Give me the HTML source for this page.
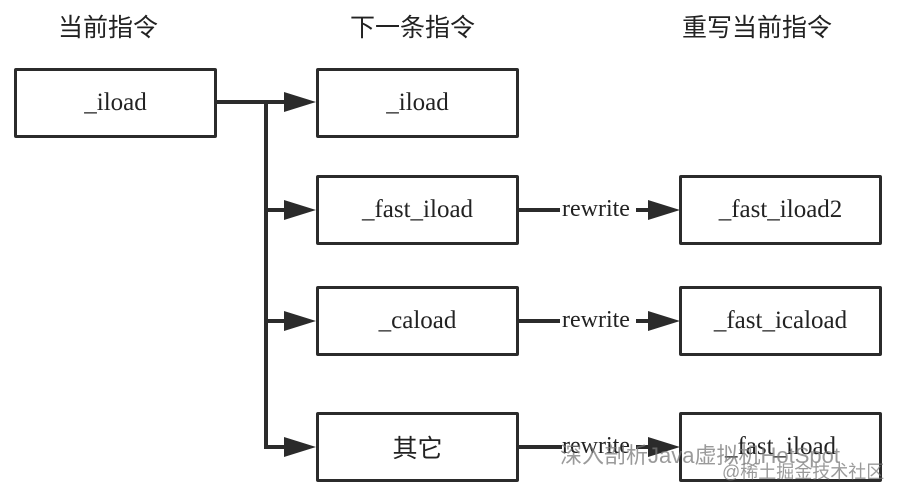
<!DOCTYPE html>
<html><head><meta charset="utf-8"><style>
body{margin:0;background:#fff;width:899px;height:494px;overflow:hidden;position:relative;font-family:"Liberation Serif","Noto Serif CJK SC",serif;}
.t{position:absolute;font-family:"Liberation Sans","Noto Sans CJK SC",sans-serif;font-size:25px;color:#222;}
.b{position:absolute;border:3.5px solid #2b2b2b;box-sizing:border-box;border-radius:2px;display:flex;align-items:center;justify-content:center;font-size:25px;color:#222;}
.r{position:absolute;font-size:24px;color:#222;background:#fff;padding:0 2px;}
.w{position:absolute;font-family:"Liberation Sans","Noto Sans CJK SC",sans-serif;color:rgba(120,120,120,0.75);}
</style></head><body>
<div class="t" style="left:58px;top:8px">当前指令</div>
<div class="t" style="left:350px;top:8px">下一条指令</div>
<div class="t" style="left:682px;top:8px">重写当前指令</div>
<svg width="899" height="494" style="position:absolute;left:0;top:0">
<g stroke="#2b2b2b" stroke-width="4" fill="none">
<line x1="216" y1="102" x2="290" y2="102"/>
<line x1="266" y1="102" x2="266" y2="449"/>
<line x1="266" y1="210" x2="290" y2="210"/>
<line x1="266" y1="321" x2="290" y2="321"/>
<line x1="266" y1="447" x2="290" y2="447"/>
<line x1="518" y1="210" x2="562" y2="210"/><line x1="636" y1="210" x2="654" y2="210"/>
<line x1="518" y1="321" x2="562" y2="321"/><line x1="636" y1="321" x2="654" y2="321"/>
<line x1="518" y1="447" x2="562" y2="447"/><line x1="636" y1="447" x2="654" y2="447"/>
</g>
<g fill="#2b2b2b">
<polygon points="284,92 316,102 284,112"/>
<polygon points="284,200 316,210 284,220"/>
<polygon points="284,311 316,321 284,331"/>
<polygon points="284,437 316,447 284,457"/>
<polygon points="648,200 680,210 648,220"/>
<polygon points="648,311 680,321 648,331"/>
<polygon points="648,437 680,447 648,457"/>
</g>
</svg>
<div class="b" style="left:14px;top:68px;width:203px;height:70px">_iload</div>
<div class="b" style="left:316px;top:68px;width:203px;height:70px">_iload</div>
<div class="b" style="left:316px;top:175px;width:203px;height:70px">_fast_iload</div>
<div class="b" style="left:316px;top:286px;width:203px;height:70px">_caload</div>
<div class="b" style="left:316px;top:412px;width:203px;height:70px;font-family:'Liberation Sans','Noto Sans CJK SC',sans-serif">其它</div>
<div class="b" style="left:679px;top:175px;width:203px;height:70px">_fast_iload2</div>
<div class="b" style="left:679px;top:286px;width:203px;height:70px">_fast_icaload</div>
<div class="b" style="left:679px;top:412px;width:203px;height:70px">_fast_iload</div>
<div class="r" style="left:560px;top:196px">rewrite</div>
<div class="r" style="left:560px;top:307px">rewrite</div>
<div class="r" style="left:560px;top:433px;background:transparent">rewrite</div>
<div class="w" style="left:560px;top:438px;font-size:22px">深入剖析Java虚拟机HotSpot</div>
<div class="w" style="left:722px;top:458px;font-size:18px">@稀土掘金技术社区</div>
</body></html>
